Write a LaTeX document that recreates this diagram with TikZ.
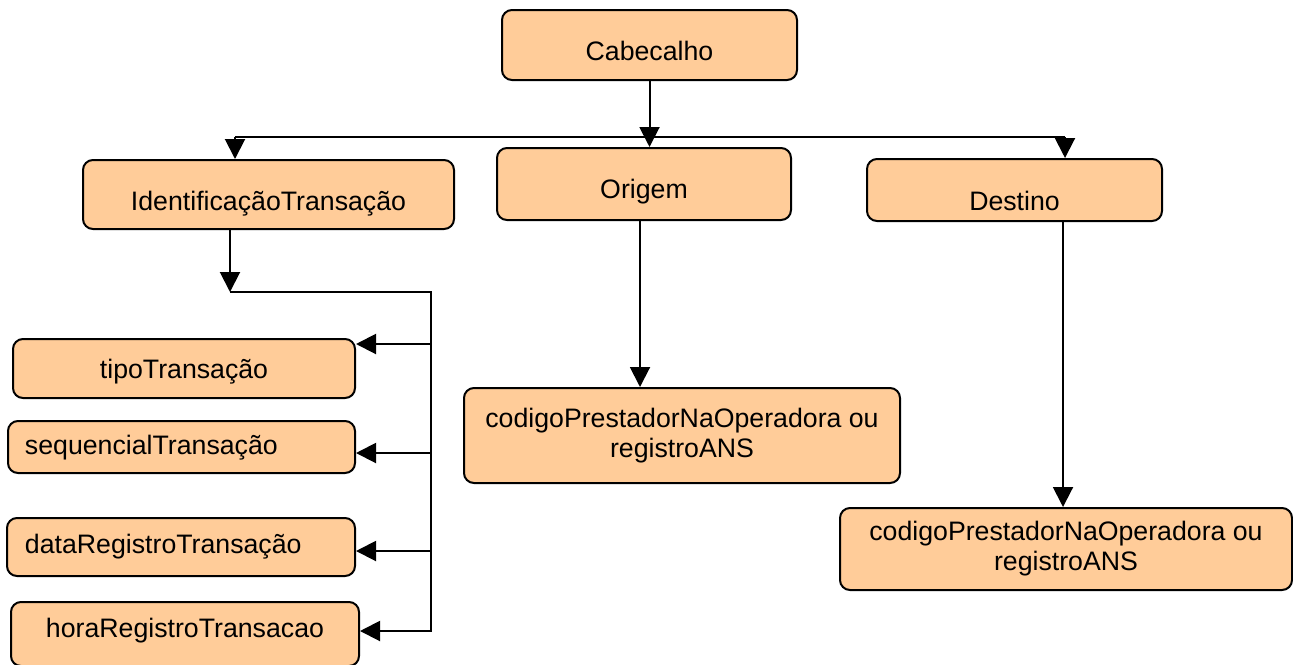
\documentclass[tikz,border=0pt]{standalone}
\usepackage{fontspec}
\setmainfont{Liberation Sans}
\usetikzlibrary{arrows.meta,calc}
\definecolor{boxfill}{HTML}{FFCC99}
\begin{document}
\begin{tikzpicture}[x=0.5pt,y=-0.5pt,
  box/.style={draw, line width=1pt, fill=boxfill, rounded corners=5pt, inner xsep=0pt, inner ysep=0pt, font=\fontsize{13.35}{15}\selectfont},
  arr/.style={-{Triangle[width=10pt,length=10pt]}, line width=1pt},
  ln/.style={line width=1pt}]
\useasboundingbox (0,0) rectangle (1293,664);
% boxes
\node[box, minimum width=147.5pt, minimum height=35pt, text height=19pt, text depth=3.4pt] (Cab) at (649.5,45) {Cabecalho};
\node[box, minimum width=185.5pt, minimum height=34.5pt, text height=19.25pt, text depth=3.15pt] (Id) at (268.5,194.5) {IdentificaçãoTransação};
\node[box, minimum width=147pt, minimum height=36pt, text height=18.5pt, text depth=3.9pt] (Ori) at (644,184) {Origem};
\node[box, minimum width=147.5pt, minimum height=31pt, text height=21.5pt, text depth=0.9pt] (De) at (1014.5,190) {Destino};
\node[box, minimum width=171pt, minimum height=29.5pt, text height=16pt, text depth=6.4pt] (Tp) at (184,368.5) {tipoTransação};
\node[box, minimum width=173.5pt, minimum height=26pt, text height=15pt, text depth=7.4pt, inner xsep=8.5pt, text width=156.5pt, align=left] (Sq) at (181.5,447) {sequencialTransação};
\node[box, minimum width=174pt, minimum height=29pt, text height=14.5pt, text depth=7.9pt, inner xsep=9pt, text width=156pt, align=left] (Dt) at (181,547) {dataRegistroTransação};
\node[box, minimum width=174pt, minimum height=32pt, text height=13pt, text depth=9.4pt] (Hr) at (185,634) {horaRegistroTransacao};
\node[box, minimum width=218pt, minimum height=47.5pt, align=center] (C1) at (682,435.5) {codigoPrestadorNaOperadora ou\\registroANS};
\node[box, minimum width=226pt, minimum height=41pt, align=center] (C2) at (1066,549) {codigoPrestadorNaOperadora ou\\registroANS};
% top distribution
\coordinate (hL) at (235,137);
\coordinate (hR) at (1065,137);
\draw[ln] (hL) -- (hR);
\draw[arr] (Cab.south) -- (Cab.south |- Ori.north);
\draw[arr] (hL) -- (hL |- Id.north);
\draw[arr] (hR) -- (hR |- De.north);
% identificacao branch
\coordinate (j) at (230,292);
\coordinate (jr) at (431,292);
\coordinate (jb) at (431,632);
\draw[arr] (Id.south -| j) -- (j);
\draw[ln] (j) -- (jr) -- (jb);
\coordinate (tpE) at ([yshift=12.25pt]Tp.east);
\coordinate (sqE) at ([yshift=-3pt]Sq.east);
\coordinate (dtE) at ([yshift=-2pt]Dt.east);
\coordinate (hrE) at ([yshift=1.5pt]Hr.east);
\draw[arr] (jr |- tpE) -- (tpE);
\draw[arr] (jr |- sqE) -- (sqE);
\draw[arr] (jr |- dtE) -- (dtE);
\draw[arr] (jr |- hrE) -- (hrE);
% origem and destino
\coordinate (oS) at ([xshift=-2pt]Ori.south);
\draw[arr] (oS) -- (oS |- C1.north);
\coordinate (dS) at ([xshift=24.25pt]De.south);
\draw[arr] (dS) -- (dS |- C2.north);
\end{tikzpicture}
\end{document}
